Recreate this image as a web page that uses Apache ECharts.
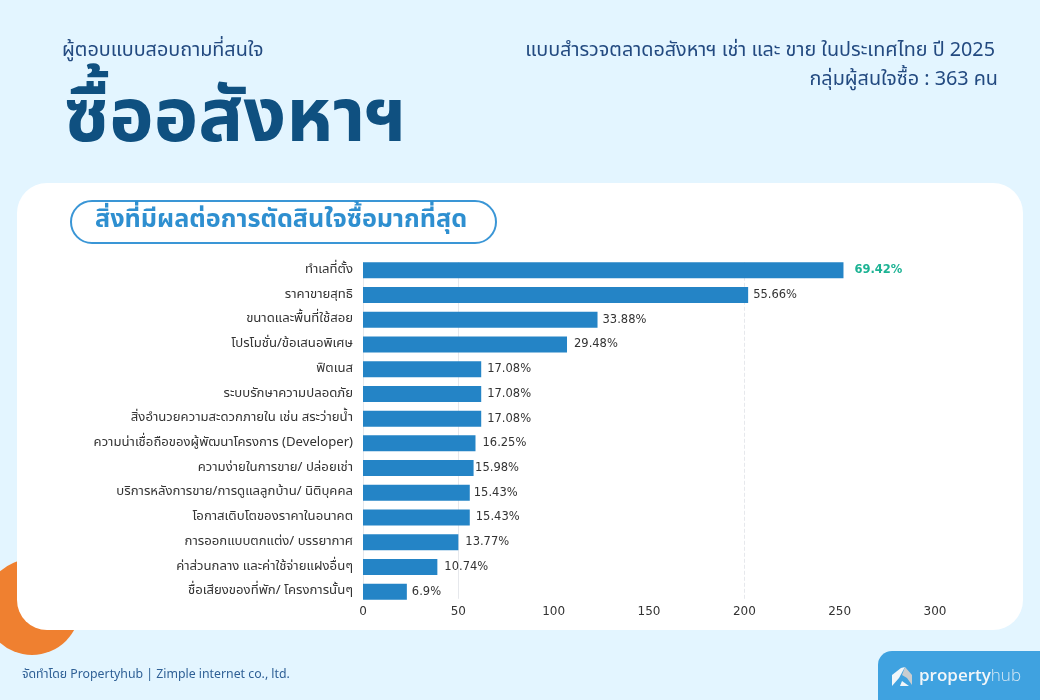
<!DOCTYPE html>
<html>
<head>
<meta charset="utf-8">
<style>
  html, body { margin: 0; padding: 0; background: #e3f5ff; }
  #chart { width: 1040px; height: 700px; }
</style>
<script src="https://cdn.jsdelivr.net/npm/echarts@6/dist/echarts.min.js"></script>
</head>
<body>
<div id="chart"></div>
<script>
// จำนวนผู้ตอบ เรียงจากมากไปน้อย
const categories = [
  'ทำเลที่ตั้ง',
  'ราคาขายสุทธิ',
  'ขนาดและพื้นที่ใช้สอย',
  'โปรโมชั่น/ข้อเสนอพิเศษ',
  'ฟิตเนส',
  'ระบบรักษาความปลอดภัย',
  'สิ่งอำนวยความสะดวกภายใน เช่น สระว่ายน้ำ',
  'ความน่าเชื่อถือของผู้พัฒนาโครงการ (Developer)',
  'ความง่ายในการขาย/ ปล่อยเช่า',
  'บริการหลังการขาย/การดูแลลูกบ้าน/ นิติบุคคล',
  'โอกาสเติบโตของราคาในอนาคต',
  'การออกแบบตกแต่ง/ บรรยากาศ',
  'ค่าส่วนกลาง และค่าใช้จ่ายแฝงอื่นๆ',
  'ชื่อเสียงของที่พัก/ โครงการนั้นๆ'
];
const counts = [252, 202, 123, 107, 62, 62, 62, 59, 58, 56, 56, 50, 39, 23];
const percentLabels = ['69.42%', '55.66%', '33.88%', '29.48%', '17.08%', '17.08%', '17.08%', '16.25%', '15.98%', '15.43%', '15.43%', '13.77%', '10.74%', '6.9%'];
const labelGaps = [11, 5, 5, 7, 6, 6, 6, 7, 1.5, 4, 6, 7, 7, 5]; // ป้ายในต้นฉบับวางด้วยมือ ระยะไม่เท่ากัน
const solidGuides = [0, 50];
const dashedGuides = [200];

const THAI_FONT = '"Noto Sans Thai", "Noto Sans", sans-serif';

// เส้นแนวตั้งสั้นกว่ากริดเล็กน้อย ใช้แกน y ซ่อน (0-1) กำหนดช่วง
const guideLine = (value, type) => [
  { xAxis: value, yAxis: 0.015, lineStyle: { color: '#e6e8ec', width: 1, type: type } },
  { xAxis: value, yAxis: 0.988 }
];

const myChart = echarts.init(document.getElementById('chart'), null, { renderer: 'canvas' });

const option = {
  backgroundColor: '#e3f5ff',
  animation: false,
  grid: { left: 363, right: 105, top: 258, bottom: 96, containLabel: false },
  xAxis: {
    type: 'value',
    min: 0,
    max: 300,
    interval: 50,
    axisLine: { show: false },
    axisTick: { show: false },
    axisLabel: { color: '#333', fontSize: 12, fontFamily: 'DejaVu Sans', margin: 2 },
    splitLine: { show: false }
  },
  yAxis: [
    {
      type: 'category',
      inverse: true,
      data: categories,
      axisLine: { show: false },
      axisTick: { show: false },
      axisLabel: { color: '#333', fontSize: 13.15, fontFamily: THAI_FONT, margin: 10, padding: [4, 0, 0, 0] }
    },
    { type: 'value', show: false, min: 0, max: 1, splitLine: { show: false } }
  ],
  series: [
    {
      type: 'line',
      yAxisIndex: 1,
      data: [],
      silent: true,
      z: 1,
      markLine: {
        silent: true,
        z: 1,
        symbol: 'none',
        label: { show: false },
        data: solidGuides.map(v => guideLine(v, 'solid')).concat(dashedGuides.map(v => guideLine(v, 'dashed')))
      }
    },
    {
      type: 'bar',
      barWidth: 16,
      itemStyle: { color: '#2484c6' },
      data: counts.map((v, i) => ({
        value: v,
        label: {
          show: true,
          position: 'right',
          distance: labelGaps[i],
          formatter: percentLabels[i],
          fontFamily: 'DejaVu Sans',
          fontSize: 11.5,
          color: i === 0 ? '#1db394' : '#333',
          fontWeight: i === 0 ? 'bold' : 'normal'
        }
      })),
      z: 3
    }
  ],
  graphic: [
    // พื้นหลังและของตกแต่ง
    { type: 'circle', z: -3, silent: true, shape: { cx: 32, cy: 607, r: 48 }, style: { fill: '#ef8030' } },
    { type: 'rect', z: -2, silent: true, shape: { x: 17, y: 183, width: 1006, height: 447, r: 30 }, style: { fill: '#fff' } },
    { type: 'rect', z: -2, silent: true, shape: { x: 71, y: 201, width: 425, height: 42, r: 21 }, style: { fill: '#fff', stroke: '#3a96d6', lineWidth: 2 } },
    // หัวเรื่อง
    { type: 'text', silent: true, style: { x: 62, y: 52, text: 'ผู้ตอบแบบสอบถามที่สนใจ', fill: '#234a80', font: '19.8px ' + THAI_FONT, textVerticalAlign: 'middle' } },
    { type: 'text', silent: true, style: { x: 64, y: 126, text: 'ซื้ออสังหาฯ', fill: '#0f5080', font: 'bold 75px ' + THAI_FONT, textVerticalAlign: 'middle' } },
    { type: 'text', silent: true, style: { x: 995, y: 52, text: 'แบบสำรวจตลาดอสังหาฯ เช่า และ ขาย ในประเทศไทย ปี 2025', fill: '#234a80', font: '19.8px ' + THAI_FONT, textAlign: 'right', textVerticalAlign: 'middle' } },
    { type: 'text', silent: true, style: { x: 998, y: 81, text: 'กลุ่มผู้สนใจซื้อ : 363 คน', fill: '#234a80', font: '19.8px ' + THAI_FONT, textAlign: 'right', textVerticalAlign: 'middle' } },
    { type: 'text', silent: true, style: { x: 95, y: 222, text: 'สิ่งที่มีผลต่อการตัดสินใจซื้อมากที่สุด', fill: '#2e8fd0', font: 'bold 25.2px ' + THAI_FONT, textVerticalAlign: 'middle' } },
    // ท้ายหน้า
    { type: 'text', silent: true, style: { x: 22, y: 676, text: 'จัดทำโดย Propertyhub | Zimple internet co., ltd.', fill: '#2f6096', font: '12.3px ' + THAI_FONT, textVerticalAlign: 'middle' } },
    { type: 'rect', silent: true, shape: { x: 878, y: 651, width: 180, height: 70, r: 14 }, style: { fill: '#3fa2e0' } },
    { type: 'polygon', silent: true, shape: { points: [[892, 675], [901, 668], [905, 667], [899, 678], [892, 686]] }, style: { fill: '#f2f6f9' } },
    { type: 'polygon', silent: true, shape: { points: [[905, 667], [912, 675], [912, 685], [907, 678], [902, 675]] }, style: { fill: '#c9cdd0' } },
    { type: 'polygon', silent: true, shape: { points: [[902, 681], [909, 686], [900, 686]] }, style: { fill: '#f2f6f9' } },
    {
      type: 'text',
      silent: true,
      style: {
        x: 919,
        y: 676,
        text: '{a|property}{b|hub}',
        textVerticalAlign: 'middle',
        rich: {
          a: { fill: '#f2f6f9', font: '600 17px "Open Sans", sans-serif' },
          b: { fill: '#d5e8f5', font: '300 17px "Open Sans", sans-serif' }
        }
      }
    }
  ]
};

myChart.setOption(option);
</script>
</body>
</html>
